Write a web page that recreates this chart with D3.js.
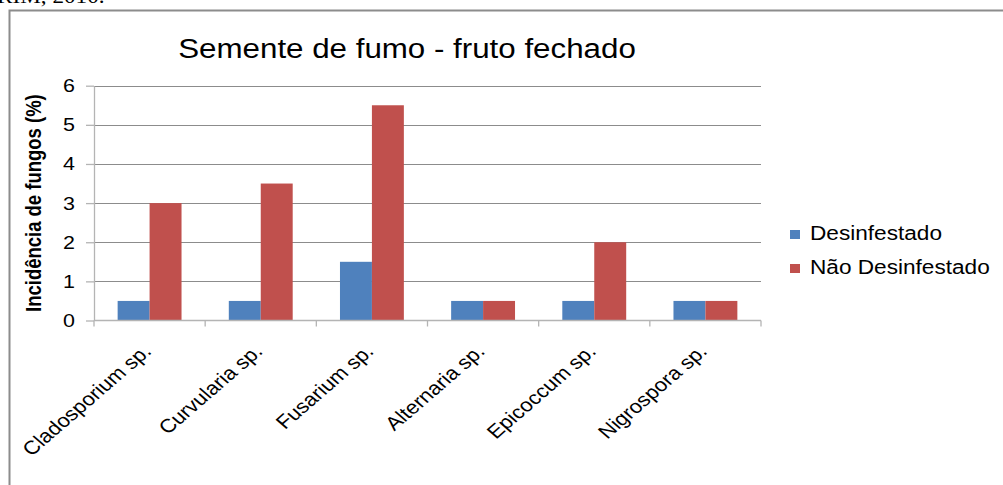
<!DOCTYPE html>
<html>
<head>
<meta charset="utf-8">
<script src="https://cdn.jsdelivr.net/npm/d3@7"></script>
<style>
  body { margin: 0; background: #fff; }
  svg { display: block; font-family: "Liberation Sans", Arial, sans-serif; }
  .grid line { stroke: #8c8c8c; stroke-width: 1; }
  .axis path, .axis line { stroke: #b4b4b4; stroke-width: 1.3; }
</style>
</head>
<body>
<div class="wrapper"></div>
<script>
var categories = ["Cladosporium sp.", "Curvularia sp.", "Fusarium sp.", "Alternaria sp.", "Epicoccum sp.", "Nigrospora sp."];
var seriesNames = ["Desinfestado", "Não Desinfestado"];
var desinfestado = [0.5, 0.5, 1.5, 0.5, 0.5, 0.5];
var naoDesinfestado = [3, 3.5, 5.5, 0.5, 2, 0.5];
var yTicks = [0, 1, 2, 3, 4, 5, 6];
var colors = ["#4f81bd", "#c0504d"];

var width = 1003, height = 485;
var plot = { left: 94, right: 761, top: 85.7, bottom: 320.5 };
// the original picture is a bit wider than tall, so glyphs look stretched
var SX = 1.16;

var svg = d3.select(".wrapper").append("svg")
  .attr("width", width)
  .attr("height", height);

// cut-off caption from the page above
svg.append("text")
  .attr("transform", "translate(-3,3) scale(" + SX + ",1)")
  .style("font-family", "'Liberation Serif', serif")
  .style("font-size", "20px")
  .text("RIM, 2010.");

// chart border
svg.append("rect")
  .attr("x", 9.5)
  .attr("y", 10.5)
  .attr("width", 1010)
  .attr("height", 500)
  .attr("fill", "none")
  .attr("stroke", "#8c8c8c")
  .attr("stroke-width", 2);

var x = d3.scaleBand()
  .domain(categories)
  .range([plot.left, plot.right])
  .paddingInner(0)
  .paddingOuter(0);

var xSub = d3.scaleBand()
  .domain(seriesNames)
  .range([0, x.bandwidth()])
  .paddingInner(0)
  .paddingOuter(0.74);

var y = d3.scaleLinear()
  .domain([0, 6])
  .range([plot.bottom, plot.top]);

// gridlines
svg.append("g")
  .attr("class", "grid")
  .selectAll("line")
  .data(yTicks.filter(d => d > 0))
  .join("line")
  .attr("x1", plot.left)
  .attr("x2", plot.right)
  .attr("y1", d => Math.round(y(d)) + 0.5)
  .attr("y2", d => Math.round(y(d)) + 0.5);

// bars
var rows = categories.map((c, i) => ({ cat: c, values: [desinfestado[i], naoDesinfestado[i]] }));

svg.append("g")
  .selectAll("g")
  .data(rows)
  .join("g")
  .attr("transform", d => "translate(" + x(d.cat) + ",0)")
  .selectAll("rect")
  .data(d => d.values.map((v, j) => ({ name: seriesNames[j], v: v, j: j })))
  .join("rect")
  .attr("x", d => xSub(d.name))
  .attr("width", xSub.bandwidth())
  .attr("y", d => y(d.v))
  .attr("height", d => y(0) - y(d.v))
  .attr("fill", d => colors[d.j]);

// y axis
var yAxis = d3.axisLeft(y)
  .tickValues(yTicks)
  .tickFormat(d3.format("d"))
  .tickSize(8)
  .tickSizeOuter(0)
  .tickPadding(11);

var gy = svg.append("g")
  .attr("class", "axis")
  .attr("transform", "translate(" + plot.left + ",0)")
  .call(yAxis);
gy.selectAll("text")
  .attr("x", 0)
  .attr("transform", "translate(-19,0) scale(" + SX + ",1)")
  .style("font-size", "18.5px")
  .attr("fill", "#000")
  .attr("font-family", null);

// x axis (ticks between categories)
var gx = svg.append("g")
  .attr("class", "axis")
  .attr("transform", "translate(0," + plot.bottom + ")");
gx.append("line")
  .attr("x1", plot.left)
  .attr("x2", plot.right);
gx.selectAll(".tk")
  .data(categories.map(c => x(c)).concat([plot.right]))
  .join("line")
  .attr("class", "tk")
  .attr("x1", d => d)
  .attr("x2", d => d)
  .attr("y1", 0)
  .attr("y2", 6);

gx.selectAll(".lbl")
  .data(categories)
  .join("text")
  .attr("class", "lbl")
  .attr("text-anchor", "end")
  .attr("transform", d => "translate(" + (x(d) + x.bandwidth() / 2 + 3) + ",32) scale(" + SX + ",1) rotate(-45)")
  .style("font-size", "19px")
  .text(d => d);

// y title
svg.append("text")
  .attr("transform", "translate(41," + (plot.top + plot.bottom) / 2 + ") scale(" + SX + ",1) rotate(-90)")
  .attr("text-anchor", "middle")
  .style("font-size", "18.5px")
  .style("font-weight", "bold")
  .text("Incidência de fungos (%)");

// chart title
svg.append("text")
  .attr("transform", "translate(407,58) scale(" + SX + ",1)")
  .attr("text-anchor", "middle")
  .style("font-size", "27px")
  .text("Semente de fumo - fruto fechado");

// legend
var legend = svg.append("g")
  .selectAll("g")
  .data(seriesNames)
  .join("g")
  .attr("transform", (d, i) => "translate(790," + (230 + i * 34) + ")");
legend.append("rect")
  .attr("width", 10)
  .attr("height", 9)
  .attr("fill", (d, i) => colors[i]);
legend.append("text")
  .attr("transform", "translate(20,10) scale(" + SX + ",1)")
  .style("font-size", "19.5px")
  .text(d => d);
</script>
</body>
</html>
